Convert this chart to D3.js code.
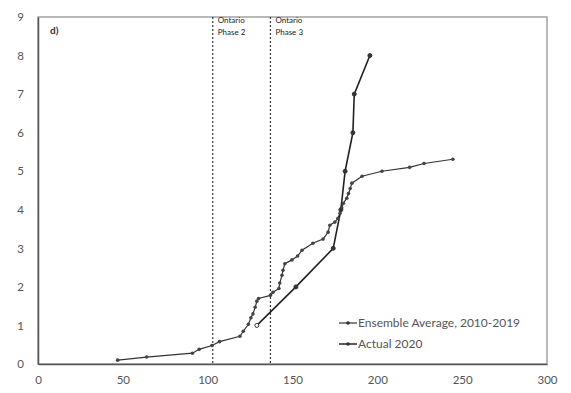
<!DOCTYPE html>
<html><head><meta charset="utf-8">
<script src="https://cdn.jsdelivr.net/npm/d3@7"></script>
<style>body{margin:0;background:#fff;} svg{display:block;}</style>
</head><body>
<svg id="c" width="571" height="393"></svg>
<script>
const ensembleX = [47,64,91,95,102.5,107,119,121,124,125.5,126.7,128,129,130,137,138.5,142,142.5,143.8,144.4,145.5,149.7,153,155.6,162,168,171,172,175,176.8,178,179,180,182,183,184,185,191,202.7,219,227.5,244.5];
const ensembleY = [0.1,0.18,0.28,0.38,0.48,0.58,0.72,0.85,1.03,1.2,1.3,1.47,1.63,1.7,1.78,1.86,1.96,2.1,2.3,2.43,2.6,2.7,2.8,2.95,3.13,3.24,3.42,3.6,3.68,3.78,3.91,4.05,4.17,4.3,4.42,4.55,4.69,4.87,5.0,5.1,5.2,5.31];
const actualX = [129,152,174,178.5,181,185.6,186.4,195.6];
const actualY = [1,2,3,4,5,6,7,8];
const phaseX = [103,137];
const phaseLabels = [["Ontario","Phase 2"],["Ontario","Phase 3"]];
const xTicks = [0,50,100,150,200,250,300];
const yTicks = [0,1,2,3,4,5,6,7,8,9];
const seriesNames = ["Ensemble Average, 2010-2019","Actual 2020"];

const svg = d3.select("#c");
const L=38,R=547,T=17,B=364;
const x = d3.scaleLinear().domain([0,300]).range([L,R]);
const y = d3.scaleLinear().domain([0,9]).range([B,T]);
const font = "Lato, 'Open Sans', sans-serif";

svg.append("rect").attr("x",L).attr("y",T).attr("width",R-L).attr("height",B-T)
  .attr("fill","none").attr("stroke","#8a8a8a").attr("stroke-width",1.2);

const xa = svg.append("g").attr("transform",`translate(0,${B})`)
  .call(d3.axisBottom(x).tickValues(xTicks).tickSize(0).tickPadding(12));
const ya = svg.append("g").attr("transform",`translate(${L},0)`)
  .call(d3.axisLeft(y).tickValues(yTicks).tickSize(0).tickPadding(14));
[xa,ya].forEach(a=>{
  a.select(".domain").attr("stroke","#555").attr("stroke-width",1.5);
  a.selectAll("text").attr("font-family",font).attr("font-size",11.5).attr("fill","#555");
});

phaseX.forEach((p,i)=>{
  svg.append("line").attr("x1",x(p)).attr("x2",x(p)).attr("y1",T).attr("y2",B)
    .attr("stroke","#333").attr("stroke-width",1.2).attr("stroke-dasharray","2,2");
  phaseLabels[i].forEach((t,j)=>{
    svg.append("text").attr("x",x(p)+5).attr("y",T+6+j*12).text(t)
      .attr("font-family",font).attr("font-size",8).attr("fill","#222");
  });
});

svg.append("text").attr("x",50).attr("y",T+17).text("d)")
  .attr("font-family",font).attr("font-size",10).attr("font-weight","bold").attr("fill","#333");

const ens = ensembleX.map((v,i)=>[v,ensembleY[i]]);
const act = actualX.map((v,i)=>[v,actualY[i]]);
const line = d3.line().x(d=>x(d[0])).y(d=>y(d[1]));

svg.append("path").datum(ens).attr("d",line).attr("fill","none").attr("stroke","#333").attr("stroke-width",1.2);
svg.append("path").datum(act).attr("d",line).attr("fill","none").attr("stroke","#222").attr("stroke-width",1.6);
svg.selectAll(".e").data(ens).enter().append("circle").attr("cx",d=>x(d[0])).attr("cy",d=>y(d[1])).attr("r",1.8).attr("fill","#444");
svg.selectAll(".a").data(act).enter().append("circle").attr("cx",d=>x(d[0])).attr("cy",d=>y(d[1])).attr("r",2)
  .attr("fill",(d,i)=>i===0?"#fff":"#333").attr("stroke","#333").attr("stroke-width",1);

seriesNames.forEach((n,i)=>{
  const ly = 323 + i*21;
  svg.append("line").attr("x1",339).attr("x2",357).attr("y1",ly).attr("y2",ly)
    .attr("stroke","#333").attr("stroke-width",i===0?1.2:1.6);
  svg.append("circle").attr("cx",348).attr("cy",ly).attr("r",1.8).attr("fill","#333");
  svg.append("text").attr("x",358).attr("y",ly+4).text(n)
    .attr("font-family",font).attr("font-size",12).attr("fill","#555");
});
</script>
</body></html>
